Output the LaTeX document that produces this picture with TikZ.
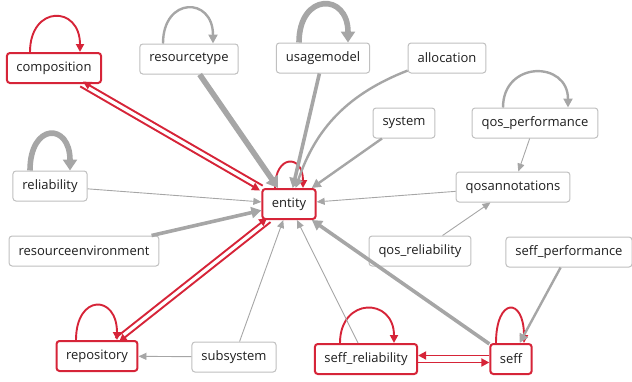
\documentclass[tikz,border=0pt]{standalone}
\usepackage{fontspec}
\setmainfont{Open Sans}
\usetikzlibrary{arrows.meta}

\definecolor{linkred}{RGB}{214,36,56}
\definecolor{linkgray}{RGB}{166,166,166}
\definecolor{boxgray}{RGB}{192,192,192}
\definecolor{labelgray}{RGB}{30,30,30}

\begin{document}
\begin{tikzpicture}[x=1pt,y=-1pt,
  pkg/.style={draw=boxgray, line width=1pt, rounded corners=3pt, fill=white,
    minimum height=30pt, inner xsep=9.5pt, text=labelgray, font=\fontsize{13}{15}\selectfont},
  redpkg/.style={pkg, draw=linkred, line width=2pt},
  grayarr/.style={draw=linkgray, -{Triangle[length=8pt,width=7pt]}},
  redarr/.style={draw=linkred, line width=1.9pt, -{Triangle[length=8pt,width=8pt]}},
  hair/.style={grayarr, line width=0.9pt},
  mid/.style={grayarr, line width=2.4pt, -{Triangle[length=9pt,width=9pt]}},
  heavy/.style={grayarr, line width=3.6pt, -{Triangle[length=10pt,width=11pt]}},
  huge/.style={grayarr, line width=5.6pt, -{Triangle[length=11pt,width=14pt]}}]

\useasboundingbox (0,0) rectangle (632,381);

% packages
\node[redpkg] (comp) at (54,68) {composition};
\node[pkg] (restype) at (189,59) {resourcetype};
\node[pkg] (usage) at (323,58) {usagemodel};
\node[pkg] (alloc) at (447,58) {allocation};
\node[pkg] (sys) at (404,123) {system};
\node[pkg] (qosperf) at (535,123) {qos\_performance};
\node[pkg] (qosann) at (513,187) {qosannotations};
\node[redpkg] (entity) at (289,204) {entity};
\node[pkg] (rel) at (50,186) {reliability};
\node[pkg] (resenv) at (84,251) {resourceenvironment};
\node[pkg] (qosrel) at (420,251) {qos\_reliability};
\node[pkg] (seffperf) at (569,252) {seff\_performance};
\node[redpkg] (repo) at (97,356) {repository};
\node[pkg] (subsys) at (234,357) {subsystem};
\node[redpkg] (seffrel) at (366,359) {seff\_reliability};
\node[redpkg] (seff) at (511,359) {seff};

% self dependencies
\draw[redarr] ([xshift=-24pt]comp.north) .. controls +(0,-47) and +(0,-47) .. ([xshift=26pt]comp.north);
\draw[mid] ([xshift=-26pt]restype.north) .. controls +(0,-47) and +(0,-47) .. ([xshift=24pt]restype.north);
\draw[huge] ([xshift=-24pt]usage.north) .. controls +(0,-50) and +(0,-50) .. ([xshift=25pt]usage.north);
\draw[mid] ([xshift=-32pt]qosperf.north) .. controls +(0,-47) and +(0,-47) .. ([xshift=33pt]qosperf.north);
\draw[redarr] ([xshift=-14pt]entity.north) .. controls +(0,-34) and +(0,-34) .. ([xshift=14pt]entity.north);
\draw[huge] ([xshift=-20pt]rel.north) .. controls +(0,-48) and +(0,-48) .. ([xshift=20pt]rel.north);
\draw[redarr] ([xshift=-21pt]repo.north) .. controls +(0,-46) and +(0,-46) .. ([xshift=20pt]repo.north);
\draw[redarr] ([xshift=-26pt]seffrel.north) .. controls +(0,-46) and +(0,-46) .. ([xshift=28pt]seffrel.north);
\draw[redarr] ([xshift=-15pt]seff.north) .. controls +(0,-46) and +(0,-46) .. ([xshift=13pt]seff.north);

% dependencies on entity
\draw[huge] (restype) -- (entity);
\draw[heavy] (usage) -- (entity);
\draw[mid] (alloc) to[bend right=25] (entity);
\draw[mid] (sys) -- (entity);
\draw[hair] (qosann) -- (entity);
\draw[hair] (rel) -- (entity);
\draw[heavy] (resenv) -- (entity);
\draw[hair] (subsys) -- (entity);
\draw[hair] (seffrel) -- (entity);
\draw[heavy] (seff) -- (entity);

% other dependencies
\draw[hair] (qosperf) -- (qosann);
\draw[hair] (qosrel) -- (qosann);
\draw[hair] (subsys) -- (repo);
\draw[mid] (seffperf) -- (seff);

% mutual dependencies
\draw[redarr, transform canvas={shift={(1.4pt,2.4pt)}}] (entity) -- (comp);
\draw[redarr, transform canvas={shift={(-1.4pt,-2.4pt)}}] (comp) -- (entity);
\draw[redarr, transform canvas={shift={(-1.7pt,2.1pt)}}] (repo) -- (entity);
\draw[redarr, transform canvas={shift={(1.7pt,-2.1pt)}}] (entity) -- (repo);
\draw[redarr, transform canvas={shift={(0pt,3.5pt)}}] (seff) -- (seffrel);
\draw[redarr, transform canvas={shift={(0pt,-3.5pt)}}] (seffrel) -- (seff);

\end{tikzpicture}
\end{document}
